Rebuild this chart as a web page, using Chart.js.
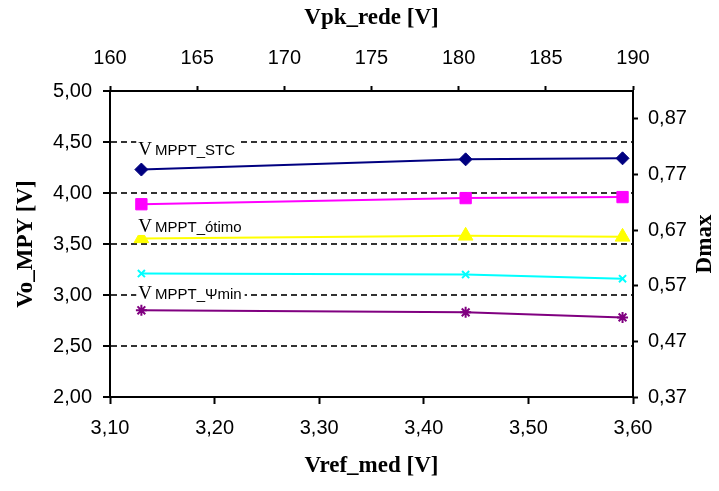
<!DOCTYPE html>
<html>
<head>
<meta charset="utf-8">
<script src="https://cdn.jsdelivr.net/npm/chart.js@4.4.1/dist/chart.umd.min.js"></script>
<style>
  html, body { margin: 0; padding: 0; background: #fff; }
  #wrap { width: 719px; height: 491px; }
</style>
</head>
<body>
<div id="wrap"><canvas id="myChart"></canvas></div>
<script>
// values
const vrefMed = [3.13, 3.44, 3.59];
const vMpptStc = [4.23, 4.33, 4.34];
const vMagenta = [3.89, 3.95, 3.96];
const vMpptOtimo = [3.555, 3.58, 3.57];
const vCyan = [3.21, 3.20, 3.16];
const vMpptPsiMin = [2.85, 2.83, 2.78];
const dmaxTicks = [0.37, 0.47, 0.57, 0.67, 0.77, 0.87];

// curve labels, anchored in data units (bottom axis / left axis)
const curveLabels = [
  { sub: 'MPPT_STC', x: 3.127, y: 4.373 },
  { sub: 'MPPT_ótimo', x: 3.127, y: 3.618 },
  { sub: 'MPPT_Ψmin', x: 3.127, y: 2.96 },
];

const toPoints = (ys) => ys.map((v, i) => ({ x: vrefMed[i], y: v }));
const comma = (v) => v.toFixed(2).replace('.', ',');

const tickFont = { family: '"Liberation Sans", Arial, sans-serif', size: 20 };
const titleFont = { family: '"Liberation Serif", "Times New Roman", serif', size: 23, weight: 'bold' };

const series = (data, color, style, radius, bw) => ({
  data: toPoints(data),
  borderColor: color,
  backgroundColor: color,
  borderWidth: 2,
  pointStyle: style,
  pointRadius: radius,
  pointBorderWidth: bw,
  pointBorderColor: color,
  pointBackgroundColor: color,
  tension: 0,
});

const labelPlugin = {
  id: 'curveLabels',
  afterDatasetsDraw(chart) {
    const { ctx, scales: { x, y } } = chart;
    ctx.save();
    ctx.textBaseline = 'alphabetic';
    ctx.textAlign = 'left';
    curveLabels.forEach((l) => {
      const px = x.getPixelForValue(l.x);
      const py = y.getPixelForValue(l.y);
      ctx.font = '19px "Liberation Serif", serif';
      const vw = ctx.measureText('V').width;
      ctx.font = '15px "Liberation Sans", Arial, sans-serif';
      const sw = ctx.measureText(l.sub).width;
      ctx.fillStyle = '#fff';
      ctx.fillRect(px - 2, py - 17, vw + 4 + sw + 4, 20);
      ctx.fillStyle = '#000';
      ctx.font = '19px "Liberation Serif", serif';
      ctx.fillText('V', px, py);
      ctx.font = '15px "Liberation Sans", Arial, sans-serif';
      ctx.fillText(l.sub, px + vw + 3, py);
    });
    ctx.restore();
  },
  afterDraw(chart) {
    // right axis title reads bottom-to-top like the left one
    const { ctx, chartArea } = chart;
    ctx.save();
    ctx.translate(705, (chartArea.top + chartArea.bottom) / 2);
    ctx.rotate(-Math.PI / 2);
    ctx.font = 'bold 23px "Liberation Serif", serif';
    ctx.fillStyle = '#000';
    ctx.textAlign = 'center';
    ctx.textBaseline = 'middle';
    ctx.fillText('Dmax', 0, 0);
    ctx.restore();
  },
};

const config = {
  type: 'line',
  data: {
    datasets: [
      series(vMpptStc, '#000080', 'rectRot', 6.5, 1),
      series(vMagenta, '#ff00ff', 'rect', 8, 1),
      series(vMpptOtimo, '#ffff00', 'triangle', 8.5, 1),
      series(vCyan, '#00ffff', 'crossRot', 5, 2),
      series(vMpptPsiMin, '#800080', 'star', 5.5, 2),
    ],
  },
  options: {
    responsive: true,
    maintainAspectRatio: false,
    animation: false,
    layout: { padding: 0 },
    plugins: { legend: { display: false }, tooltip: { enabled: false } },
    scales: {
      x: {
        type: 'linear',
        position: 'bottom',
        min: 3.1,
        max: 3.6,
        ticks: { stepSize: 0.1, font: tickFont, color: '#000', padding: 12, maxRotation: 0, callback: (v) => comma(v) },
        grid: { drawOnChartArea: false, tickLength: 7, tickColor: '#000', tickWidth: 2 },
        border: { color: '#000', width: 2 },
        title: { display: true, text: 'Vref_med [V]', font: titleFont, color: '#000', padding: { top: 0, bottom: 11 } },
        afterFit: (s) => { s.height = 94; },
      },
      x2: {
        type: 'linear',
        position: 'top',
        min: 160,
        max: 190,
        ticks: { stepSize: 5, font: tickFont, color: '#000', padding: 16, maxRotation: 0 },
        grid: { drawOnChartArea: false, tickLength: 5, tickColor: '#000', tickWidth: 2 },
        border: { color: '#000', width: 2 },
        title: { display: true, text: 'Vpk_rede [V]', font: titleFont, color: '#000', padding: { top: 4, bottom: 0 } },
        afterFit: (s) => { s.height = 91; },
      },
      y: {
        type: 'linear',
        position: 'left',
        min: 2,
        max: 5,
        ticks: { stepSize: 0.5, font: tickFont, color: '#000', padding: 11, callback: (v) => comma(v) },
        grid: {
          color: (c) => (c.tick && (c.tick.value === 2 || c.tick.value === 5)) ? 'rgba(0,0,0,0)' : '#333',
          lineWidth: 2,
          tickLength: 7,
          tickColor: '#000',
          tickWidth: 2,
        },
        border: { color: '#000', width: 2, dash: [6, 4] },
        title: { display: true, text: 'Vo_MPY [V]', font: titleFont, color: '#000', padding: { top: 12, bottom: 0 } },
        afterFit: (s) => { s.width = 110; },
      },
      y2: {
        type: 'linear',
        position: 'right',
        min: 0.37,
        max: 0.92,
        afterBuildTicks: (s) => { s.ticks = dmaxTicks.map((v) => ({ value: v })); },
        ticks: { font: tickFont, color: '#000', padding: 10, callback: (v) => comma(v) },
        grid: { drawOnChartArea: false, tickLength: 5, tickColor: '#000', tickWidth: 2 },
        border: { color: '#000', width: 2 },
        afterFit: (s) => { s.width = 86; },
      },
    },
  },
  plugins: [labelPlugin],
};

const myChart = new Chart(document.getElementById('myChart'), config);
</script>
</body>
</html>
